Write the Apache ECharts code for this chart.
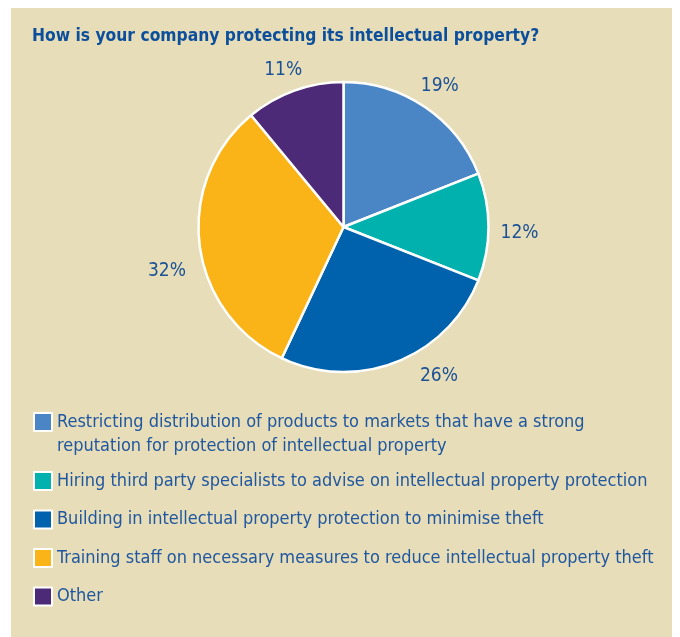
<!DOCTYPE html>
<html>
<head>
<meta charset="utf-8">
<script src="https://cdn.jsdelivr.net/npm/echarts@6/dist/echarts.min.js"></script>
<style>
  html, body { margin: 0; padding: 0; background: #ffffff; }
  #chart { width: 680px; height: 637px; }
</style>
</head>
<body>
<div id="chart"></div>
<script>
// Survey question and answers
const titleText = 'How is your company protecting its intellectual property?';
const categories = [
  'Restricting distribution of products to markets that have a strong\nreputation for protection of intellectual property',
  'Hiring third party specialists to advise on intellectual property protection',
  'Building in intellectual property protection to minimise theft',
  'Training staff on necessary measures to reduce intellectual property theft',
  'Other'
];
// Share of respondents, percent
const shares = [19, 12, 26, 32, 11];
const sliceColors = ['#4a86c5', '#00b1ad', '#0061ad', '#fbb417', '#4d2a78'];

// Small nudges for the percentage labels around the pie (styling only)
const labelNudge = [[-2, 4], [1, 6], [31, -14], [-3, 22], [-1, 8]];

const FONT = "'Liberation Sans Narrow', 'DejaVu Sans Condensed', sans-serif";
const BLUE_TEXT = '#1b5196';
const LINE_H = 24;

const chart = echarts.init(document.getElementById('chart'), null, { renderer: 'canvas' });

const pieData = categories.map((name, i) => ({
  name,
  value: shares[i],
  itemStyle: { color: sliceColors[i] }
}));

const labelData = categories.map((name, i) => ({
  name,
  value: shares[i],
  label: { offset: labelNudge[i] }
}));

const legendText = { fontFamily: FONT, fontSize: 18, color: '#1f57a0', lineHeight: LINE_H };
const legendBase = {
  orient: 'vertical',
  left: 33,
  padding: 0,
  icon: 'rect',
  itemWidth: 18,
  itemHeight: 18,
  selectedMode: false,
  textStyle: legendText
};

chart.setOption({
  animation: false,
  backgroundColor: '#ffffff',
  graphic: [{
    type: 'rect',
    z: -10,
    silent: true,
    shape: { x: 11, y: 8, width: 661, height: 640 },
    style: { fill: '#e7ddb8' }
  }],
  title: {
    text: titleText,
    left: 32,
    top: 28,
    padding: 0,
    textStyle: { fontFamily: FONT, fontSize: 17.3, fontWeight: 'bold', color: '#0b4f9c' }
  },
  legend: [Object.assign({}, legendBase, {
    // two-line entry: a leading blank line keeps the first line level with the swatch
    top: 422 - 1.5 * LINE_H,
    formatter: name => '\n' + name,
    data: [categories[0]]
  }), Object.assign({}, legendBase, {
    top: 481 - LINE_H / 2,
    itemGap: 14.5,
    data: categories.slice(1)
  })],
  series: [{
    type: 'pie',
    center: [343.5, 227],
    radius: 145,
    startAngle: 90,
    clockwise: true,
    label: { show: false },
    labelLine: { show: false },
    itemStyle: { borderColor: '#ffffff', borderWidth: 2.5 },
    emphasis: { disabled: true },
    data: pieData
  }, {
    // transparent ring carrying the percentage labels
    type: 'pie',
    center: [343.5, 227],
    radius: [162, 182],
    startAngle: 90,
    clockwise: true,
    silent: true,
    legendHoverLink: false,
    itemStyle: { color: 'transparent', borderWidth: 0 },
    label: {
      show: true,
      position: 'inside',
      formatter: '{c}%',
      fontFamily: FONT,
      fontSize: 19,
      color: BLUE_TEXT
    },
    labelLine: { show: false },
    emphasis: { disabled: true },
    data: labelData
  }]
});
</script>
</body>
</html>
